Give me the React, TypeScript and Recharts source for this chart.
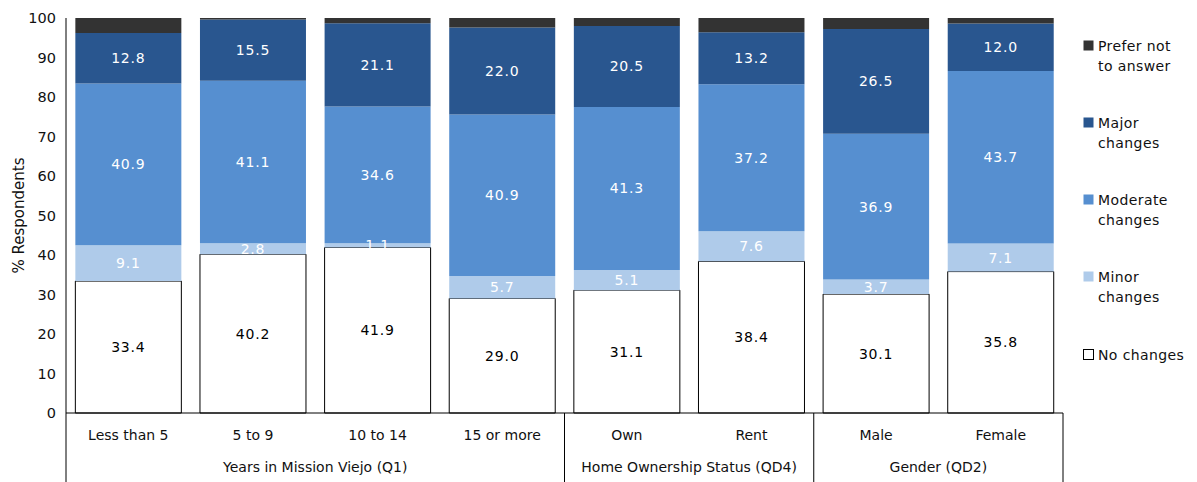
import React from 'react';
import { BarChart, Bar, XAxis, YAxis, LabelList, Legend, Label } from 'recharts';

const categories = ['Less than 5', '5 to 9', '10 to 14', '15 or more', 'Own', 'Rent', 'Male', 'Female'];
const noChanges = [33.4, 40.2, 41.9, 29.0, 31.1, 38.4, 30.1, 35.8];
const minorChanges = [9.1, 2.8, 1.1, 5.7, 5.1, 7.6, 3.7, 7.1];
const moderateChanges = [40.9, 41.1, 34.6, 40.9, 41.3, 37.2, 36.9, 43.7];
const majorChanges = [12.8, 15.5, 21.1, 22.0, 20.5, 13.2, 26.5, 12.0];
const preferNot = [3.8, 0.4, 1.3, 2.4, 2.0, 3.6, 2.8, 1.4];

const groupNames = ['Years in Mission Viejo (Q1)', 'Home Ownership Status (QD4)', 'Gender (QD2)'];
const groupStarts = [0, 4, 6];
const groupSizes = [4, 2, 2];

const yTicks = [0, 10, 20, 30, 40, 50, 60, 70, 80, 90, 100];

const data = categories.map((c, i) => ({
  cat: c,
  no: noChanges[i],
  minor: minorChanges[i],
  moderate: moderateChanges[i],
  major: majorChanges[i],
  prefer: preferNot[i],
}));

const FONT = '"DejaVu Sans", sans-serif';
const C_PREFER = '#333333';
const C_MAJOR = '#29568F';
const C_MODERATE = '#568FD0';
const C_MINOR = '#AFCBEA';

const CHART_W = 1181;
const CHART_H = 474;
const M_TOP = 10;
const M_RIGHT = 126;
const Y_W = 58;
const X_H = 69;
const PLOT_W = CHART_W - Y_W - M_RIGHT;

const CategoryTick = (props: any) => {
  const { x, y, payload } = props;
  const i: number = payload?.index ?? props.index ?? 0;
  const half: number = payload?.offset && payload.offset > 0 ? payload.offset : PLOT_W / categories.length / 2;
  const gi = groupStarts.indexOf(i);
  const els: any[] = [];
  els.push(
    <text key="t" x={x} y={y + 27} textAnchor="middle" fontSize={14} fontFamily={FONT} fill="#111">
      {payload.value}
    </text>
  );
  if (gi >= 0) {
    els.push(<line key="l" x1={x - half} x2={x - half} y1={y} y2={y + X_H} stroke="#000" strokeWidth={1} />);
    const cx = x + (groupSizes[gi] - 1) * half;
    els.push(
      <text key="g" x={cx} y={y + 59} textAnchor="middle" fontSize={14} fontFamily={FONT} fill="#111">
        {groupNames[gi]}
      </text>
    );
  }
  if (i === categories.length - 1) {
    els.push(<line key="r" x1={x + half} x2={x + half} y1={y} y2={y + X_H} stroke="#000" strokeWidth={1} />);
  }
  return <g>{els}</g>;
};

const legendItems = [
  { lines: ['Prefer not', 'to answer'], color: C_PREFER, y: 16 },
  { lines: ['Major', 'changes'], color: C_MAJOR, y: 93 },
  { lines: ['Moderate', 'changes'], color: C_MODERATE, y: 170 },
  { lines: ['Minor', 'changes'], color: C_MINOR, y: 247 },
  { lines: ['No changes'], color: '#FFFFFF', y: 325 },
];

const LegendContent = () => (
  <svg width={120} height={350} style={{ display: 'block' }}>
    {legendItems.map((it, k) => (
      <g key={k}>
        <rect
          x={8.5}
          y={it.y - 5.5}
          width={10}
          height={10}
          fill={it.color}
          stroke={it.color === '#FFFFFF' ? '#000' : 'none'}
          strokeWidth={1}
        />
        {it.lines.map((ln, j) => (
          <text key={j} x={23} y={it.y + 5 + j * 20} fontSize={14} fontFamily={FONT} fill="#111" letterSpacing={0.4}>
            {ln}
          </text>
        ))}
      </g>
    ))}
  </svg>
);

const YTitle = (props: any) => {
  const vb = props.viewBox || {};
  const cy = (vb.y ?? M_TOP) + (vb.height ?? 395) / 2;
  return (
    <text
      x={11}
      y={cy}
      transform={`rotate(-90, 11, ${cy})`}
      textAnchor="middle"
      dominantBaseline="central"
      fontSize={15}
      fontFamily={FONT}
      fill="#111"
    >
      % Respondents
    </text>
  );
};

const labelStyleWhite = { fill: '#FFFFFF', fontSize: 14, fontFamily: FONT, letterSpacing: 0.8 };
const labelStyleBlack = { fill: '#000000', fontSize: 14, fontFamily: FONT, letterSpacing: 0.8 };

export default function App() {
  return (
    <div style={{ width: CHART_W, height: CHART_H }}>
      <BarChart
        width={CHART_W}
        height={CHART_H}
        data={data}
        margin={{ top: M_TOP, right: M_RIGHT, bottom: 0, left: 0 }}
        barCategoryGap="7.5%"
      >
        <XAxis
          dataKey="cat"
          interval={0}
          height={X_H}
          tickSize={0}
          tickMargin={0}
          tickLine={false}
          axisLine={{ stroke: '#000', strokeWidth: 1 }}
          tick={<CategoryTick />}
        />
        <YAxis
          type="number"
          domain={[0, 100]}
          ticks={yTicks}
          interval={0}
          width={Y_W}
          tickSize={0}
          tickMargin={10}
          tickLine={false}
          axisLine={{ stroke: '#000', strokeWidth: 1 }}
          tick={{ fill: '#111', fontSize: 14.5, fontFamily: FONT }}
        >
          <Label content={<YTitle />} />
        </YAxis>
        <Legend
          layout="vertical"
          align="center"
          verticalAlign="middle"
          content={<LegendContent />}
          wrapperStyle={{ left: 1067, top: 22, width: 120, height: 350 }}
        />
        <Bar dataKey="no" name="No changes" stackId="s" fill="#FFFFFF" stroke="#000" strokeWidth={1} isAnimationActive={false}>
          <LabelList dataKey="no" position="center" formatter={(v: any) => Number(v).toFixed(1)} style={labelStyleBlack} />
        </Bar>
        <Bar dataKey="minor" name="Minor changes" stackId="s" fill={C_MINOR} isAnimationActive={false}>
          <LabelList dataKey="minor" position="center" formatter={(v: any) => Number(v).toFixed(1)} style={labelStyleWhite} />
        </Bar>
        <Bar dataKey="moderate" name="Moderate changes" stackId="s" fill={C_MODERATE} isAnimationActive={false}>
          <LabelList dataKey="moderate" position="center" formatter={(v: any) => Number(v).toFixed(1)} style={labelStyleWhite} />
        </Bar>
        <Bar dataKey="major" name="Major changes" stackId="s" fill={C_MAJOR} isAnimationActive={false}>
          <LabelList dataKey="major" position="center" formatter={(v: any) => Number(v).toFixed(1)} style={labelStyleWhite} />
        </Bar>
        <Bar dataKey="prefer" name="Prefer not to answer" stackId="s" fill={C_PREFER} isAnimationActive={false} />
      </BarChart>
    </div>
  );
}
